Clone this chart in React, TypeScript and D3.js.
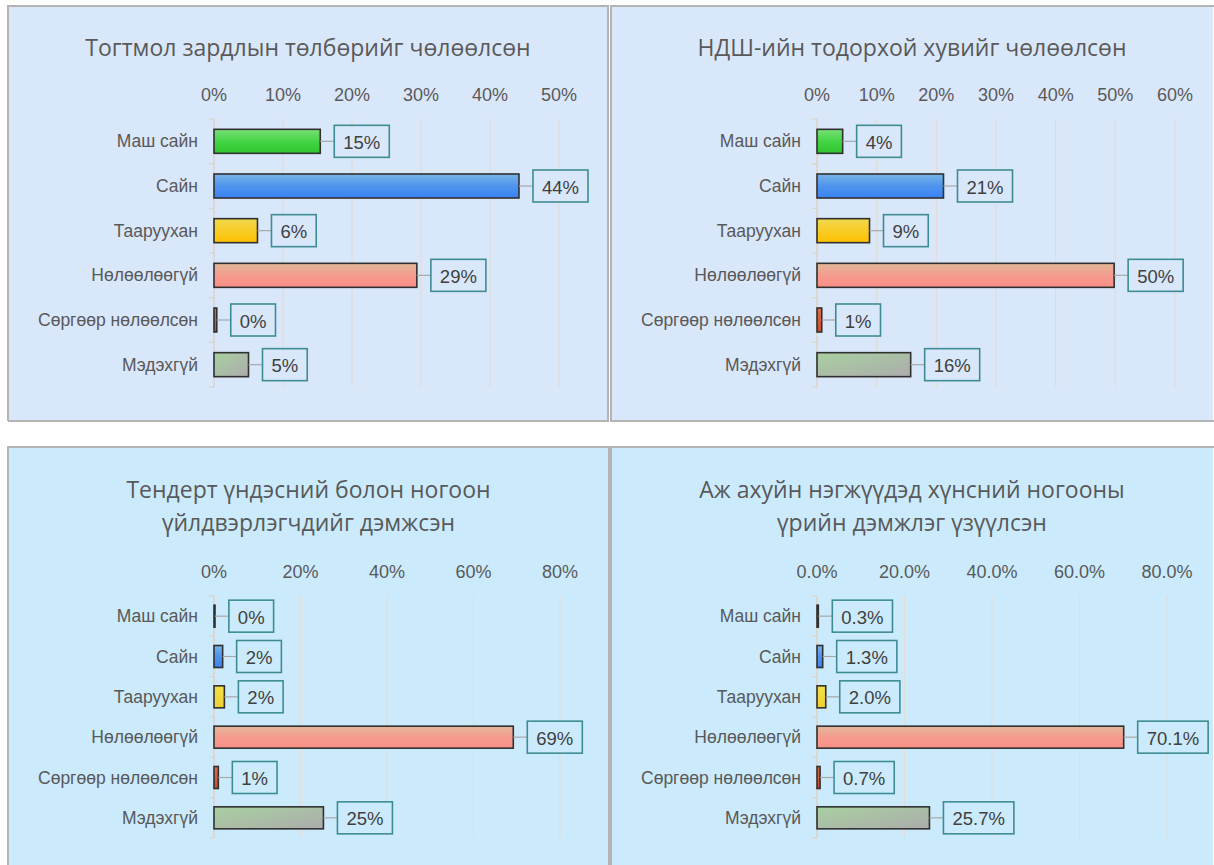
import React from "react";
import * as d3 from "d3";

const categories = [
  "Маш сайн",
  "Сайн",
  "Тааруухан",
  "Нөлөөлөөгүй",
  "Сөргөөр нөлөөлсөн",
  "Мэдэхгүй",
];

const titles1 = ["Тогтмол зардлын төлбөрийг чөлөөлсөн"];
const titles2 = ["НДШ-ийн тодорхой хувийг чөлөөлсөн"];
const titles3 = ["Тендерт үндэсний болон ногоон", "үйлдвэрлэгчдийг дэмжсэн"];
const titles4 = ["Аж ахуйн нэгжүүдэд хүнсний ногооны", "үрийн дэмжлэг үзүүлсэн"];

const values1 = [15.4, 44.2, 6.3, 29.4, 0.4, 5.0];
const values2 = [4.3, 21.2, 8.8, 49.8, 0.8, 15.7];
const values3 = [0.2, 2.0, 2.4, 69.2, 1.0, 25.3];
const values4 = [0.3, 1.3, 2.0, 70.1, 0.7, 25.7];

const ticks1 = [0, 10, 20, 30, 40, 50];
const ticks2 = [0, 10, 20, 30, 40, 50, 60];
const ticks3 = [0, 20, 40, 60, 80];
const ticks4 = [0, 20, 40, 60, 80];

const W = 1214;
const H = 865;

type PanelProps = {
  id: string;
  px: number;
  py: number;
  pw: number;
  ph: number;
  bg: string;
  title: string[];
  titleY: number[];
  values: number[];
  ticks: number[];
  tickFmt: (v: number) => string;
  valFmt: (v: number) => string;
  x0: number;
  x1: number;
  y0: number;
  y1: number;
  tickY: number;
  barH: number;
  rightBorder: boolean;
};

const gradIds = ["g0", "g1", "g2", "g3", "g4", "g5"];

const LABEL_FS = 18.5;
function labelWidth(s: string) {
  let w = 0;
  for (const ch of s) {
    if (ch === "%") w += 0.889;
    else if (ch === ".") w += 0.278;
    else w += 0.556;
  }
  return w * LABEL_FS;
}

function Panel(p: PanelProps) {
  const x = d3.scaleLinear().domain([0, p.ticks[p.ticks.length - 1]]).range([p.x0, p.x1]);
  const y = d3.scaleBand<string>().domain(categories).range([p.y0, p.y1]);
  const step = y.step();
  const boundaries = d3.range(categories.length + 1).map((i) => p.y0 + i * step);
  const cx = (p.px + p.px + p.pw) / 2;
  const txtColor = "#595959";
  const font = "'Liberation Sans', Arial, sans-serif";
  return (
    <g>
      <rect x={p.px} y={p.py} width={p.pw} height={p.ph} fill={p.bg} />
      <path
        d={
          p.rightBorder
            ? `M${p.px},${p.py + p.ph}V${p.py}H${p.px + p.pw}V${p.py + p.ph}H${p.px}`
            : `M${p.px + p.pw + 10},${p.py + p.ph}H${p.px}V${p.py}H${p.px + p.pw + 10}`
        }
        fill="none"
        stroke="#b4b4b4"
        strokeWidth={2}
      />
      {p.title.map((t, i) => (
        <text
          key={i}
          x={cx}
          y={p.titleY[i]}
          textAnchor="middle"
          dominantBaseline="central"
          fontFamily="'Open Sans', 'Noto Sans', sans-serif"
          fontSize={23}
          fill={txtColor}
        >
          {t}
        </text>
      ))}
      {p.ticks.map((t) => (
        <g key={t}>
          <line x1={x(t)} x2={x(t)} y1={p.y0} y2={p.y1} stroke="#e2dcd4" strokeWidth={1.2} />
          <text
            x={x(t)}
            y={p.tickY}
            textAnchor="middle"
            dominantBaseline="central"
            fontFamily={font}
            fontSize={18}
            fill={txtColor}
          >
            {p.tickFmt(t)}
          </text>
        </g>
      ))}
      <line x1={p.x0} x2={p.x0} y1={p.y0} y2={p.y1} stroke="#dcd2c8" strokeWidth={1.2} />
      {boundaries.map((b, i) => (
        <line key={i} x1={p.x0 - 5} x2={p.x0} y1={b} y2={b} stroke="#dcd2c8" strokeWidth={1.2} />
      ))}
      {categories.map((c, i) => {
        const cy = (y(c) as number) + step / 2;
        const v = p.values[i];
        const xe = x(v);
        const label = p.valFmt(v);
        const bw = labelWidth(label) + 18;
        const gap = 14;
        const bx = xe + gap;
        return (
          <g key={c}>
            <text
              x={p.x0 - 16}
              y={cy}
              textAnchor="end"
              dominantBaseline="central"
              fontFamily={font}
              fontSize={17.5}
              fill={txtColor}
            >
              {c}
            </text>
            <rect
              x={p.x0}
              y={cy - p.barH / 2}
              width={Math.max(xe - p.x0, 1)}
              height={p.barH}
              fill={`url(#${p.id}${gradIds[i]})`}
              stroke="#303030"
              strokeWidth={1.6}
            />
            <line x1={xe} x2={bx} y1={cy} y2={cy} stroke="#a8a8a8" strokeWidth={1.2} />
            <rect
              x={bx}
              y={cy - 16}
              width={bw}
              height={32}
              fill={p.bg}
              stroke="#3e8c93"
              strokeWidth={1.6}
            />
            <text
              x={bx + bw / 2}
              y={cy + 1}
              textAnchor="middle"
              dominantBaseline="central"
              fontFamily={font}
              fontSize={LABEL_FS}
              fill="#404040"
            >
              {label}
            </text>
          </g>
        );
      })}
    </g>
  );
}

function Grads({ id, bottom }: { id: string; bottom: boolean }) {
  return (
    <>
      <linearGradient id={`${id}g0`} x1="0" y1="0" x2="0" y2="1">
        <stop offset="0" stopColor="#78e078" />
        <stop offset="0.5" stopColor="#44d444" />
        <stop offset="1" stopColor="#2ec62e" />
      </linearGradient>
      <linearGradient id={`${id}g1`} x1="0" y1="0" x2="0" y2="1">
        <stop offset="0" stopColor="#78b4e6" />
        <stop offset="0.5" stopColor="#4e94ee" />
        <stop offset="1" stopColor="#3a82f4" />
      </linearGradient>
      <linearGradient id={`${id}g2`} x1="0" y1="0" x2="0" y2="1">
        <stop offset="0" stopColor={bottom ? "#f2e04a" : "#f0d84c"} />
        <stop offset="1" stopColor={bottom ? "#eed032" : "#ffc000"} />
      </linearGradient>
      <linearGradient id={`${id}g3`} x1="0" y1="0" x2="0" y2="1">
        <stop offset="0" stopColor="#e2b89a" />
        <stop offset="0.55" stopColor="#f7998c" />
        <stop offset="1" stopColor="#fa9088" />
      </linearGradient>
      <linearGradient id={`${id}g4`} x1="0" y1="0" x2="0" y2="1">
        <stop offset="0" stopColor="#d8704c" />
        <stop offset="1" stopColor="#c84c34" />
      </linearGradient>
      <linearGradient id={`${id}g5`} x1="0" y1="0" x2="1" y2="1">
        <stop offset="0" stopColor="#a8d0a0" />
        <stop offset="1" stopColor="#acacac" />
      </linearGradient>
    </>
  );
}

export default function App() {
  const pct0 = (v: number) => `${d3.format(".0f")(v)}%`;
  const pct1 = (v: number) => `${d3.format(".1f")(v)}%`;
  return (
    <div style={{ position: "absolute", left: 0, top: 0 }}>
      <svg width={W} height={H} style={{ display: "block" }}>
        <defs>
          <Grads id="a" bottom={false} />
          <Grads id="b" bottom={false} />
          <Grads id="c" bottom={true} />
          <Grads id="d" bottom={true} />
        </defs>
        <rect x={0} y={0} width={W} height={H} fill="#ffffff" />
        <Panel
          id="a" px={8} py={6} pw={600} ph={415} bg="#d9e7fb"
          title={titles1} titleY={[47]} values={values1} ticks={ticks1}
          tickFmt={pct0} valFmt={pct0}
          x0={214} x1={559} y0={119} y1={387} tickY={95} barH={24} rightBorder={true}
        />
        <Panel
          id="b" px={611} py={6} pw={602} ph={415} bg="#d9e7fb"
          title={titles2} titleY={[47]} values={values2} ticks={ticks2}
          tickFmt={pct0} valFmt={pct0}
          x0={817} x1={1175} y0={119} y1={387} tickY={95} barH={24} rightBorder={false}
        />
        <Panel
          id="c" px={8} py={447} pw={601} ph={430} bg="#cbebfd"
          title={titles3} titleY={[489, 522]} values={values3} ticks={ticks3}
          tickFmt={pct0} valFmt={pct0}
          x0={214} x1={560} y0={596} y1={838} tickY={572} barH={22} rightBorder={true}
        />
        <Panel
          id="d" px={611} py={447} pw={602} ph={430} bg="#cbebfd"
          title={titles4} titleY={[489, 522]} values={values4} ticks={ticks4}
          tickFmt={pct1} valFmt={pct1}
          x0={817} x1={1167} y0={596} y1={838} tickY={572} barH={22} rightBorder={false}
        />
      </svg>
    </div>
  );
}
